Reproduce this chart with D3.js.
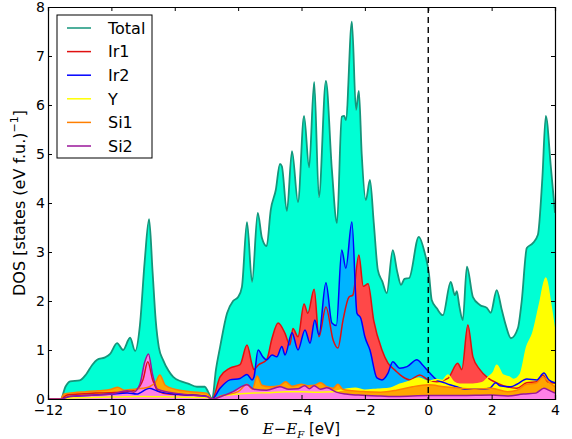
<!DOCTYPE html>
<html>
<head>
<meta charset="utf-8">
<script src="https://cdn.jsdelivr.net/npm/d3@7"></script>
<style>
  body { margin: 0; background: #fff; }
  svg text { font-family: "DejaVu Sans", sans-serif; fill: #000; }
  .axis path, .axis line { stroke: #000; }
</style>
</head>
<body>
<svg id="chart"></svg>
<script>
// projected DOS, pairs of [E - E_F (eV), states per eV per f.u.]
const total = [[-12,0],[-11.6,0],[-11.45,0.25],[-11.3,0.36],[-11.0,0.38],[-10.8,0.5],[-10.6,0.7],[-10.45,0.8],[-10.2,0.85],[-10.04,0.92],[-9.82,1.14],[-9.63,1.0],[-9.41,1.25],[-9.25,0.98],[-9.1,1.5],[-8.95,2.8],[-8.81,3.67],[-8.7,2.6],[-8.6,1.6],[-8.5,1.05],[-8.37,0.8],[-8.2,0.58],[-8.05,0.45],[-7.8,0.36],[-7.6,0.32],[-7.3,0.25],[-7.05,0.25],[-6.95,0.15],[-6.82,0],[-6.7,0.6],[-6.57,1.06],[-6.35,1.75],[-6.16,2.0],[-6.0,2.08],[-5.88,2.29],[-5.72,3.61],[-5.56,2.39],[-5.38,3.8],[-5.25,3.29],[-5.1,3.12],[-4.97,3.86],[-4.81,4.27],[-4.68,4.8],[-4.62,4.75],[-4.46,3.84],[-4.3,5.06],[-4.11,4.02],[-3.92,5.78],[-3.76,4.73],[-3.6,6.47],[-3.45,4.12],[-3.23,6.49],[-3.04,4.67],[-2.88,3.59],[-2.73,5.76],[-2.65,5.78],[-2.6,5.69],[-2.41,7.7],[-2.28,5.9],[-2.19,6.29],[-2.1,5.0],[-1.97,4.06],[-1.84,4.47],[-1.72,3.6],[-1.59,2.63],[-1.45,2.4],[-1.31,2.16],[-1.12,3.04],[-0.98,2.6],[-0.86,2.33],[-0.75,2.45],[-0.6,2.47],[-0.3,3.31],[-0.11,2.98],[0.02,2.57],[0.11,2.02],[0.27,1.85],[0.46,1.71],[0.71,2.39],[0.84,2.12],[0.9,2.2],[0.98,1.9],[1.09,1.61],[1.22,2.7],[1.41,2.08],[1.63,1.92],[1.85,1.86],[1.97,1.76],[2.16,2.22],[2.32,1.82],[2.45,1.5],[2.61,1.24],[2.83,1.45],[2.95,2.0],[3.11,3.08],[3.3,3.18],[3.46,3.35],[3.6,4.5],[3.71,5.78],[3.87,4.73],[4.0,3.8]];

const ir1 = [[-12,0],[-11.6,0],[-11.4,0.08],[-11,0.1],[-10.5,0.12],[-10,0.13],[-9.5,0.15],[-9.2,0.2],[-9.0,0.4],[-8.85,0.76],[-8.7,0.4],[-8.5,0.15],[-8.2,0.1],[-7.5,0.08],[-7.0,0.05],[-6.82,0],[-6.57,0.45],[-6.26,0.63],[-5.94,0.7],[-5.72,1.1],[-5.56,0.7],[-5.5,0.6],[-5.37,0.69],[-5.1,0.8],[-4.93,1.24],[-4.74,1.55],[-4.52,1.34],[-4.37,1.1],[-4.27,1.44],[-4.11,1.27],[-3.92,1.94],[-3.8,1.75],[-3.6,2.24],[-3.45,1.27],[-3.23,1.88],[-3.0,1.2],[-2.85,1.04],[-2.69,1.61],[-2.5,2.08],[-2.38,2.12],[-2.19,2.94],[-2.05,2.3],[-1.9,2.35],[-1.72,1.6],[-1.46,1.0],[-1.27,0.73],[-1.05,0.59],[-0.8,0.45],[-0.58,0.39],[-0.27,0.49],[0.0,0.39],[0.27,0.35],[0.62,0.42],[0.93,0.73],[1.06,0.6],[1.25,1.51],[1.41,0.86],[1.63,0.6],[1.88,0.43],[2.16,0.33],[2.48,0.25],[2.79,0.22],[3.11,0.33],[3.43,0.35],[3.62,0.49],[3.77,0.35],[4.0,0.32]];

const ir2 = [[-12,0],[-11.6,0],[-11.3,0.05],[-10.5,0.08],[-10,0.1],[-9.5,0.12],[-9.2,0.1],[-8.8,0.22],[-8.5,0.15],[-8,0.1],[-7.5,0.08],[-7,0.05],[-6.82,0],[-6.57,0.22],[-6.26,0.39],[-5.94,0.42],[-5.72,0.5],[-5.56,0.39],[-5.5,0.45],[-5.37,1.0],[-5.22,0.86],[-5.1,0.8],[-4.93,0.9],[-4.78,0.86],[-4.62,1.07],[-4.52,0.9],[-4.3,1.35],[-4.11,1.0],[-3.89,1.41],[-3.73,1.14],[-3.58,1.61],[-3.45,1.31],[-3.23,2.37],[-3.04,1.55],[-2.9,1.5],[-2.73,3.04],[-2.6,2.67],[-2.41,3.61],[-2.25,1.75],[-2.13,1.65],[-2.0,1.27],[-1.84,1.0],[-1.62,0.43],[-1.46,0.39],[-1.27,0.53],[-1.12,0.76],[-0.9,0.63],[-0.67,0.66],[-0.36,0.8],[-0.17,0.69],[0.05,0.53],[0.27,0.39],[0.52,0.33],[0.68,0.29],[0.9,0.25],[1.15,0.2],[1.63,0.2],[1.94,0.22],[2.13,0.33],[2.26,0.27],[2.6,0.25],[2.8,0.3],[3.11,0.41],[3.43,0.39],[3.65,0.53],[3.8,0.39],[4.0,0.33]];

const yDos = [[-12,0],[-11.6,0],[-11.3,0.02],[-10,0.04],[-9,0.05],[-8,0.04],[-7,0.03],[-6.82,0],[-6.5,0.06],[-6,0.1],[-5.5,0.12],[-5,0.13],[-4.5,0.15],[-4,0.15],[-3.5,0.14],[-3,0.15],[-2.6,0.2],[-2.3,0.22],[-2.0,0.18],[-1.6,0.2],[-1.2,0.22],[-0.9,0.3],[-0.6,0.36],[-0.3,0.43],[0,0.36],[0.27,0.4],[0.45,0.38],[0.62,0.49],[0.8,0.35],[1.0,0.3],[1.4,0.3],[1.7,0.33],[1.9,0.45],[2.06,0.55],[2.16,0.69],[2.35,0.49],[2.55,0.45],[2.7,0.4],[2.9,0.5],[3.11,1.07],[3.3,1.35],[3.52,1.96],[3.71,2.47],[3.85,2.0],[4.0,1.35]];

const si1 = [[-12,0],[-11.6,0],[-11.5,0.1],[-11.2,0.13],[-10.8,0.15],[-10.4,0.17],[-10.0,0.2],[-9.8,0.24],[-9.6,0.18],[-9.3,0.2],[-9.0,0.22],[-8.8,0.25],[-8.6,0.35],[-8.47,0.49],[-8.3,0.28],[-8.0,0.2],[-7.5,0.15],[-7.0,0.12],[-6.82,0],[-6.5,0.07],[-6.0,0.15],[-5.72,0.3],[-5.55,0.2],[-5.4,0.47],[-5.25,0.28],[-5.0,0.25],[-4.7,0.27],[-4.5,0.35],[-4.3,0.26],[-4.0,0.3],[-3.8,0.27],[-3.6,0.28],[-3.4,0.33],[-3.2,0.25],[-3.0,0.22],[-2.85,0.3],[-2.7,0.2],[-2.4,0.17],[-2.0,0.15],[-1.5,0.14],[-1.0,0.18],[-0.5,0.25],[0,0.29],[0.5,0.25],[1.0,0.22],[1.5,0.2],[2.0,0.22],[2.5,0.15],[2.8,0.18],[3.1,0.3],[3.4,0.32],[3.62,0.45],[3.8,0.35],[4.0,0.25]];

const si2 = [[-12,0],[-11.6,0],[-11.3,0.05],[-10.5,0.08],[-10,0.1],[-9.5,0.17],[-9.3,0.14],[-9.1,0.3],[-8.95,0.75],[-8.83,0.92],[-8.7,0.5],[-8.55,0.2],[-8.2,0.14],[-8,0.12],[-7.5,0.08],[-7,0.05],[-6.82,0],[-6.5,0.06],[-6.16,0.15],[-5.72,0.29],[-5.5,0.2],[-5.1,0.18],[-4.68,0.25],[-4.4,0.2],[-4.1,0.21],[-3.9,0.27],[-3.75,0.21],[-3.6,0.27],[-3.4,0.2],[-3.2,0.23],[-2.9,0.14],[-2.6,0.1],[-2.2,0.08],[-1.5,0.06],[-1,0.05],[0,0.07],[1,0.07],[2,0.08],[2.5,0.06],[3,0.1],[3.4,0.12],[3.65,0.22],[3.8,0.18],[4,0.12]];

const seriesNames = ['Total', 'Ir1', 'Ir2', 'Y', 'Si1', 'Si2'];
const xTicks = [-12, -10, -8, -6, -4, -2, 0, 2, 4];
const yTicks = [0, 1, 2, 3, 4, 5, 6, 7, 8];

class DosChart {
  constructor(_config, _data) {
    this.config = {
      parentElement: _config.parentElement,
      width: 572,
      height: 439,
      margin: { top: 7, right: 17, bottom: 40, left: 48 },
      fills: ['#00ffd4', '#ff4848', '#00b4ff', '#ffff00', '#ffa500', '#ff80e6'],
      lines: ['#15957b', '#e01010', '#0000ff', '#ffff00', '#ff7f00', '#9a169a']
    };
    this.data = _data;
    this.initVis();
  }

  initVis() {
    let vis = this;
    const c = vis.config;
    vis.innerWidth = c.width - c.margin.left - c.margin.right;
    vis.innerHeight = c.height - c.margin.top - c.margin.bottom;

    vis.xScale = d3.scaleLinear().domain([-12, 4]).range([0, vis.innerWidth]);
    vis.yScale = d3.scaleLinear().domain([0, 8]).range([vis.innerHeight, 0]);

    vis.svg = d3.select(c.parentElement)
      .attr('width', c.width)
      .attr('height', c.height);

    vis.chart = vis.svg.append('g')
      .attr('transform', `translate(${c.margin.left},${c.margin.top})`);

    vis.chart.append('defs').append('clipPath')
      .attr('id', 'clip')
      .append('rect')
      .attr('width', vis.innerWidth)
      .attr('height', vis.innerHeight);

    vis.plotG = vis.chart.append('g').attr('clip-path', 'url(#clip)');
    vis.renderVis();
  }

  renderVis() {
    let vis = this;
    const c = vis.config;

    const area = d3.area()
      .curve(d3.curveMonotoneX)
      .x(d => vis.xScale(d[0]))
      .y0(vis.yScale(0))
      .y1(d => vis.yScale(d[1]));
    const line = d3.line()
      .curve(d3.curveMonotoneX)
      .x(d => vis.xScale(d[0]))
      .y(d => vis.yScale(d[1]));

    // all fills first, then every line on top
    vis.plotG.selectAll('.dos-area')
      .data(vis.data)
      .join('path')
      .attr('class', 'dos-area')
      .attr('d', area)
      .attr('fill', (d, i) => c.fills[i])
      .attr('stroke', 'none');

    vis.plotG.selectAll('.dos-line')
      .data(vis.data)
      .join('path')
      .attr('class', 'dos-line')
      .attr('d', line)
      .attr('fill', 'none')
      .attr('stroke', (d, i) => c.lines[i])
      .attr('stroke-width', (d, i) => i === 0 ? 1.8 : 1.5)
      .attr('stroke-linejoin', 'round');

    // Fermi level
    vis.plotG.append('line')
      .attr('x1', vis.xScale(0)).attr('x2', vis.xScale(0))
      .attr('y1', 0).attr('y2', vis.innerHeight)
      .attr('stroke', '#000')
      .attr('stroke-width', 1.4)
      .attr('stroke-dasharray', '6,4');

    // axes, ticks pointing inward on all sides
    const tickLen = 4;
    const xBottom = d3.axisBottom(vis.xScale).tickValues(xTicks).tickSize(-tickLen)
      .tickFormat(d => d < 0 ? '\u2212' + Math.abs(d) : d);
    const xTop = d3.axisTop(vis.xScale).tickValues(xTicks).tickSize(-tickLen).tickFormat('');
    const yLeft = d3.axisLeft(vis.yScale).tickValues(yTicks).tickSize(-tickLen).tickPadding(3);
    const yRight = d3.axisRight(vis.yScale).tickValues(yTicks).tickSize(-tickLen).tickFormat('');

    const gxb = vis.chart.append('g').attr('class', 'axis')
      .attr('transform', `translate(0,${vis.innerHeight})`).call(xBottom);
    vis.chart.append('g').attr('class', 'axis').call(xTop);
    vis.chart.append('g').attr('class', 'axis').call(yLeft);
    vis.chart.append('g').attr('class', 'axis')
      .attr('transform', `translate(${vis.innerWidth},0)`).call(yRight);

    vis.chart.selectAll('.axis .domain').attr('stroke-width', 1.2);
    vis.chart.selectAll('.axis text').attr('font-size', 14).attr('font-family', '"DejaVu Sans", sans-serif');
    gxb.selectAll('text').attr('y', 16).attr('dy', 0);

    // axis titles
    const xl = vis.svg.append('text')
      .attr('x', c.margin.left + vis.innerWidth / 2)
      .attr('y', 434)
      .attr('text-anchor', 'middle')
      .attr('font-size', 15);
    xl.append('tspan').attr('font-family', '"DejaVu Serif", serif').attr('font-style', 'italic').text('E');
    xl.append('tspan').text('\u2212');
    xl.append('tspan').attr('font-family', '"DejaVu Serif", serif').attr('font-style', 'italic').text('E');
    xl.append('tspan').attr('font-family', '"DejaVu Serif", serif').attr('font-style', 'italic')
      .attr('font-size', 10).attr('dy', 4).text('F');
    xl.append('tspan').attr('dy', -4).text(' [eV]');

    const yl = vis.svg.append('text')
      .attr('transform', `translate(25,${c.margin.top + vis.innerHeight / 2}) rotate(-90)`)
      .attr('text-anchor', 'middle')
      .attr('font-size', 16);
    yl.append('tspan').text('DOS [states (eV f.u.)');
    yl.append('tspan').attr('font-size', 11).attr('dy', -7).text('\u22121');
    yl.append('tspan').attr('dy', 7).text(']');

    // legend
    const lg = vis.chart.append('g').attr('transform', 'translate(9,8)');
    lg.append('rect')
      .attr('width', 95).attr('height', 143)
      .attr('fill', '#fff').attr('stroke', '#000').attr('stroke-width', 1);
    const rows = lg.selectAll('.legend-row')
      .data(seriesNames)
      .join('g')
      .attr('class', 'legend-row')
      .attr('transform', (d, i) => `translate(0,${13 + i * 23.6})`);
    rows.append('line')
      .attr('x1', 10).attr('x2', 34)
      .attr('stroke', (d, i) => c.lines[i])
      .attr('stroke-width', 1.5);
    rows.append('text')
      .attr('x', 51).attr('dy', '0.36em')
      .attr('font-size', 16)
      .text(d => d);
  }
}

new DosChart({ parentElement: '#chart' }, [total, ir1, ir2, yDos, si1, si2]);
</script>
</body>
</html>
